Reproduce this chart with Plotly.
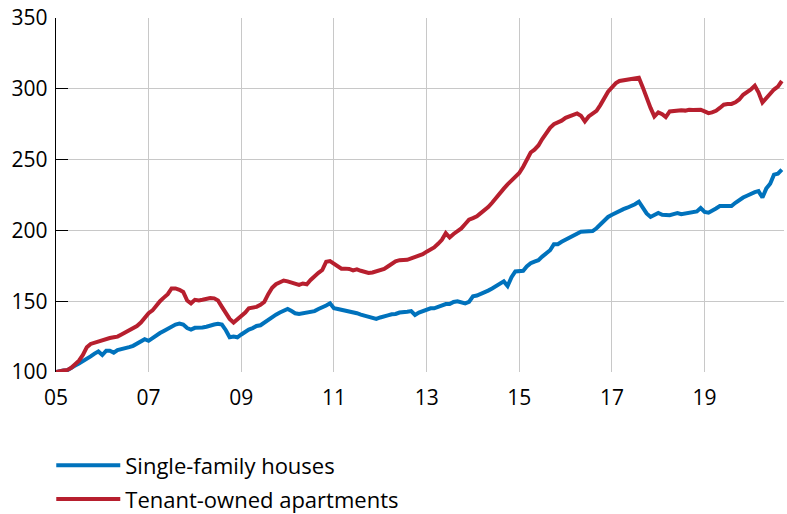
import pandas as pd
import plotly.graph_objects as go

months = pd.date_range("2005-01-01", periods=189, freq="MS")

single_family = [
    100, 100.8, 101, 101.3, 102.5, 104.5, 106, 107.5, 109, 111, 113, 114.5,
    112, 115, 115, 113.7, 115.5, 116, 117, 117.6, 118.5, 120, 121, 123.2,
    122, 124, 126, 127.5, 129, 130.5, 132, 133.5, 134.2, 133.5, 131, 130,
    131.2, 131.2, 131.5, 132, 133, 133.5, 134, 133.5, 129.5, 124.5, 125, 124.5,
    126.5, 128.5, 130, 131, 132.5, 133, 135, 137, 139, 140.5, 142, 143.5,
    144.5, 143, 141.5, 141, 141.5, 142, 142, 143, 144.5, 145.5, 147, 148.5,
    145, 144.5, 144, 143.5, 142.8, 142.6, 141.5, 140.5, 139.6, 139, 138.5, 137.5,
    138.5, 139.6, 140, 140.8, 141, 142, 142, 142.6, 143, 140.3, 142, 143,
    144.3, 145, 145, 146, 147.3, 148, 148, 149.5, 150, 149, 148.5, 149.5,
    153.5, 154, 155, 156, 157.5, 159, 160.5, 162.5, 164, 160.7, 167, 171,
    171.5, 171.5, 174.5, 176.8, 178, 179, 181.5, 184, 186, 190.3, 190.3, 192,
    193.5, 195, 196, 197.5, 199, 199.2, 199.2, 199.5, 201.5, 204, 207, 209.5,
    211, 212.5, 214, 215, 216, 217, 218.5, 220.3, 216, 212, 209.5, 211,
    212.3, 211, 210.7, 210.7, 211.5, 212.3, 211.4, 212, 212.3, 212.5, 213.4, 215.8,
    213, 212.5, 213.6, 215.5, 217.2, 217.2, 217.2, 217.2, 219.5, 221.5, 223.2, 224.5,
    226, 227, 227.7, 223.2, 229.5, 233, 239.4, 240.1, 242.9,
]

tenant_owned = [
    100, 100.8, 101, 101.5, 103, 105.5, 108, 112, 117.5, 119.8, 120.8, 121.8,
    122.5, 123.8, 124, 124.5, 125, 126.5, 128, 129.5, 130.5, 132.5, 134.9, 138,
    141.5, 143.5, 147, 150, 152.5, 155, 159, 159, 158, 156.5, 150.5, 148.5,
    151, 150.5, 151, 152, 152.3, 152, 150.5, 146, 142, 137.5, 134.9, 137,
    139, 142, 145, 145.5, 146, 147.5, 149.5, 155, 159.5, 162, 163.5, 164.6,
    164, 163, 162.3, 161.5, 162.5, 162, 165, 167.8, 170, 172, 177.9, 178.4,
    176.3, 174.5, 173, 173, 172.8, 171.8, 172.5, 171.5, 170.5, 170, 170.3, 171,
    171.5, 172.8, 174.5, 176.5, 178.2, 179, 179, 179.2, 180.2, 181, 182, 183.2,
    185, 186.5, 188, 190.5, 193.3, 198, 195, 197.5, 199.5, 201.4, 204.5, 207.5,
    208.7, 210, 212, 214, 216.5, 219.5, 223, 226.5, 229.5, 232.5, 235.5, 238,
    240.5, 245, 249.4, 255, 257, 260, 264.5, 268.5, 272.5, 275, 276, 277.5,
    279.5, 280.5, 281, 282.6, 281, 277, 280.5, 282.5, 284.5, 288.5, 293, 298,
    301, 304, 305.5, 306, 306.2, 306.5, 307.5, 307.8, 301, 293.5, 286.5, 280.5,
    283.3, 282, 280, 284, 284.5, 285, 284.8, 284.6, 285.2, 285, 285, 285.2,
    284, 282.8, 283.3, 284.5, 286.5, 288.8, 289.2, 289.3, 290.5, 292.5, 295.8, 297.5,
    299.5, 302.2, 297.5, 290.4, 293.5, 296.5, 299.5, 301.5, 305.5,
]

x_tick_vals = [f"{y}-01-01" for y in range(2005, 2021, 2)]
x_tick_text = ["05", "07", "09", "11", "13", "15", "17", "19"]
y_tick_vals = [100, 150, 200, 250, 300, 350]

BLUE = "#0072BC"
RED = "#B71F2E"
FONT = "Open Sans"

fig = go.Figure()
fig.add_trace(go.Scatter(x=months, y=single_family, mode="lines",
                         name="Single-family houses", legendgroup="a",
                         line=dict(color=BLUE, width=4)))
fig.add_trace(go.Scatter(x=months, y=tenant_owned, mode="lines",
                         name="Tenant-owned apartments", legendgroup="b",
                         line=dict(color=RED, width=4)))

fig.update_layout(
    width=787, height=514,
    margin=dict(l=56, r=3, t=18, b=142, autoexpand=False),
    paper_bgcolor="white", plot_bgcolor="white",
    font=dict(family=FONT, size=21, color="#000000"),
    showlegend=True,
    legend=dict(x=-0.0065, y=-0.205, xanchor="left", yanchor="top",
                orientation="v", traceorder="grouped", tracegroupgap=2,
                font=dict(size=22), itemwidth=64, bgcolor="rgba(0,0,0,0)"),
    xaxis=dict(range=["2005-01-01", "2020-09-18"], tickvals=x_tick_vals,
               ticktext=x_tick_text, showgrid=True, gridcolor="#C8C8C8",
               gridwidth=1, ticks="", showline=False, zeroline=False,
               automargin=False, ticklabelstandoff=11),
    yaxis=dict(range=[100, 350], tickvals=y_tick_vals, showgrid=True,
               gridcolor="#C8C8C8", gridwidth=1, ticks="inside", ticklen=12,
               tickcolor="black", tickwidth=1.3, showline=True, linecolor="black",
               linewidth=1.3, zeroline=False, automargin=False,
               ticklabelstandoff=3),
    yaxis2=dict(range=[100, 350], tickvals=y_tick_vals, overlaying="y",
                side="right", showgrid=False, showticklabels=False,
                ticks="outside", ticklen=3, tickcolor="black", showline=False,
                zeroline=False, automargin=False),
)

fig.write_html("out.html", config={"displayModeBar": False},
               post_script="document.body.style.margin='0';document.body.style.overflow='hidden';")
